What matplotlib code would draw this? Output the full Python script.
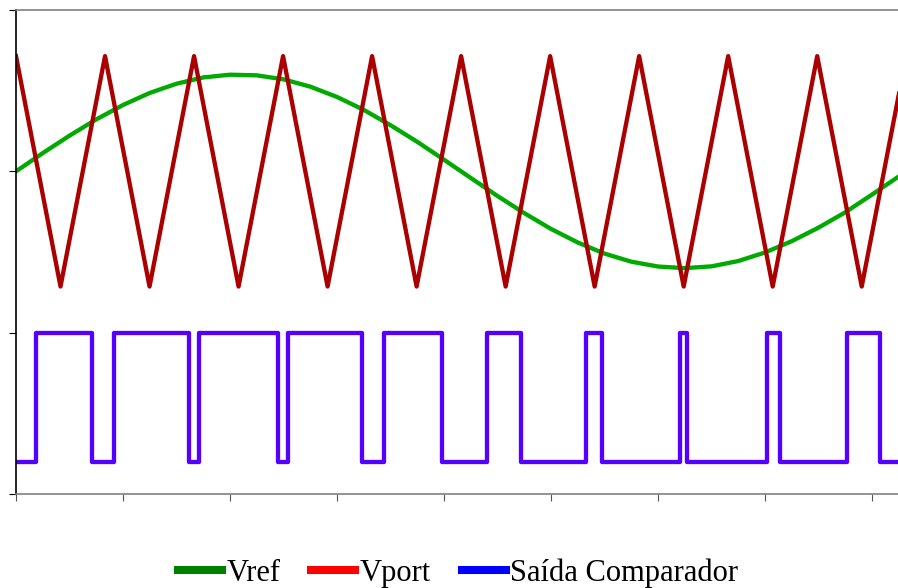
import matplotlib
matplotlib.use("Agg")
import matplotlib.pyplot as plt
from matplotlib.lines import Line2D

# time axis in tick units (9 ticks, no labels)
x_ticks = [0, 1, 2, 3, 4, 5, 6, 7, 8]
y_ticks = [0, 1, 2, 3]

# Vref (sine), sampled every 0.25
vref_t = [i * 0.25 for i in range(34)]
vref_v = [2.000, 2.113, 2.221, 2.322, 2.411, 2.486, 2.543, 2.582, 2.599,
          2.595, 2.570, 2.525, 2.461, 2.381, 2.286, 2.183, 2.072, 1.959,
          1.847, 1.741, 1.643, 1.559, 1.490, 1.440, 1.410, 1.400, 1.411,
          1.444, 1.497, 1.567, 1.651, 1.746, 1.856, 1.968]

# Vport (triangle carrier) vertices
vport_t = [0.000, 0.416, 0.832, 1.248, 1.664, 2.080, 2.496, 2.912, 3.328,
           3.744, 4.160, 4.576, 4.992, 5.408, 5.824, 6.240, 6.656, 7.072,
           7.488, 7.904, 8.320]
vport_v = [2.714, 1.286] * 10 + [2.714]

# comparator output switching instants
sw_t = [0.187, 0.710, 0.916, 1.617, 1.710, 2.449, 2.542, 3.234, 3.439, 3.981,
        4.402, 4.720, 5.327, 5.477, 6.206, 6.271, 7.019, 7.140, 7.766, 8.075]
out_low = 0.2
out_high = 1.0

# build step curve
cmp_t = [0.0]
cmp_v = [out_low]
level = out_low
for t in sw_t:
    cmp_t.append(t)
    cmp_v.append(level)
    level = out_high if level == out_low else out_low
    cmp_t.append(t)
    cmp_v.append(level)
cmp_t.append(8.3)
cmp_v.append(level)

fig = plt.figure(figsize=(8.98, 5.88), dpi=100)
ax = fig.add_axes([16 / 898, 1 - 494 / 588, 1 - 16 / 898, (494 - 10) / 588])

ax.plot(vref_t, vref_v, color="#00aa00", lw=3.1, solid_joinstyle="round")
ax.plot(vport_t, vport_v, color="#aa0000", lw=3.1, solid_joinstyle="round")
ax.plot(cmp_t, cmp_v, color="#5500ff", lw=3.1, solid_joinstyle="round",
        solid_capstyle="round")

ax.set_xlim(0, 882 / 107)
ax.set_ylim(0, 3)
ax.set_xticks(x_ticks)
ax.set_yticks(y_ticks)
ax.set_xticklabels([])
ax.set_yticklabels([])
ax.tick_params(axis="x", direction="out", length=5, color="#555555")
ax.tick_params(axis="y", direction="out", length=5, color="black")

ax.spines["right"].set_visible(False)
ax.spines["top"].set_color("#808080")
ax.spines["bottom"].set_color("#808080")
ax.spines["left"].set_color("black")
for s in ax.spines.values():
    s.set_linewidth(1.2)

# legend swatches use plain colours
handles = [Line2D([], [], color="#008000", lw=5.8),
           Line2D([], [], color="#ff0000", lw=5.8),
           Line2D([], [], color="#0000ff", lw=5.8)]
labels = ["Vref", "Vport", "Saída Comparador"]
fig.legend(handles, labels, loc="center", bbox_to_anchor=(0.510, 1 - 573 / 588),
           ncol=3, frameon=False, handlelength=1.45, handletextpad=0.15,
           columnspacing=1.0, borderpad=0, borderaxespad=0,
           prop={"family": "Liberation Serif", "size": 22})

fig.savefig("out.png", dpi=100)
